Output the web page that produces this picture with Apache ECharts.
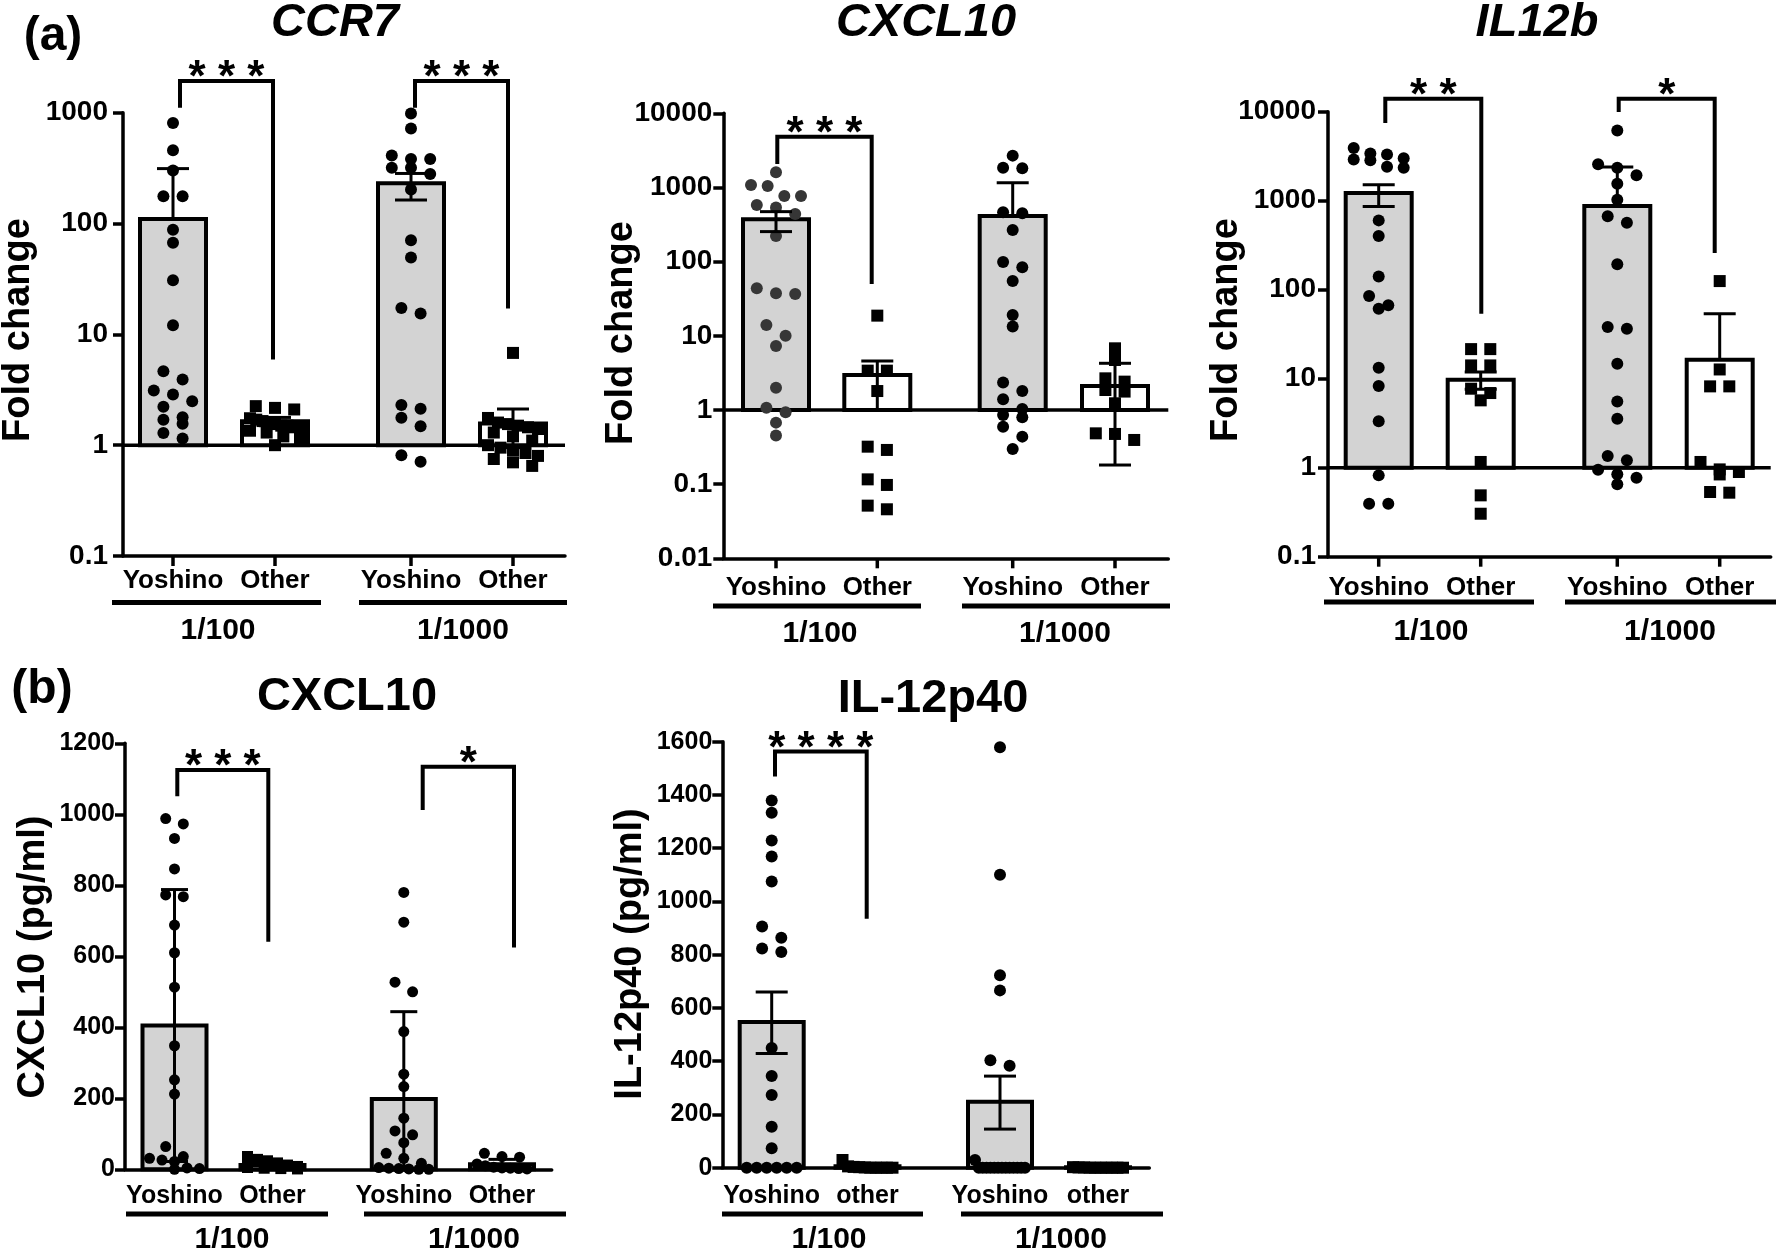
<!DOCTYPE html>
<html>
<head>
<meta charset="utf-8">
<script src="https://cdn.jsdelivr.net/npm/echarts@6.0.0/dist/echarts.min.js"></script>
<style>
html,body{margin:0;padding:0;background:#fff;}
#chart{width:1778px;height:1257px;}
</style>
</head>
<body>
<div id="chart"></div>
<script>
// ================= DATA =================
const groupNamesA = ['Yoshino', 'Other', 'Yoshino', 'Other'];
const groupNamesB2 = ['Yoshino', 'other', 'Yoshino', 'other'];
const dilutions = ['1/100', '1/1000'];
const titles = ['CCR7', 'CXCL10', 'IL12b', 'CXCL10', 'IL-12p40'];
const yTitles = ['Fold change', 'Fold change', 'Fold change', 'CXCL10 (pg/ml)', 'IL-12p40 (pg/ml)'];
const panelLetters = ['(a)', '(b)'];

// (a) CCR7 fold change
const ccr7_yoshino100 = [809, 459, 301, 176, 176, 88, 67, 30.8, 12.1, 4.65, 3.91, 3.11, 2.87, 2.49, 2.22, 1.79, 1.70, 1.56, 1.29, 1.15];
const ccr7_other100 = [2.25, 2.17, 2.1, 1.75, 1.7, 1.65, 1.6, 1.55, 1.5, 1.5, 1.45, 1.4, 1.35, 1.3, 1.2, 1.1, 1.0];
const ccr7_yoshino1000 = [983, 720, 411, 383, 383, 318, 318, 280, 203, 70.7, 49.3, 17.3, 15.4, 2.3, 2.13, 1.77, 1.48, 0.81, 0.71];
const ccr7_other1000 = [6.8, 1.76, 1.6, 1.55, 1.5, 1.45, 1.4, 1.3, 1.2, 1.1, 1.0, 0.95, 0.9, 0.85, 0.8, 0.75, 0.7, 0.65];
const ccr7_mean = [110, 1.64, 231, 1.57];
const ccr7_errHigh = [313, 1.78, 283, 2.12];
const ccr7_errLow = [null, 1.5, 163, 0.95];
const ccr7_sig = ['* * *', '* * *'];

// (a) CXCL10 fold change
const cxcl10a_yoshino100 = [1601, 1047, 1081, 768, 768, 535, 581, 440, 222, 37.4, 36.6, 43.7, 14.0, 10.0, 7.29, 2.0, 1.07, 0.93, 0.675, 0.451];
const cxcl10a_other100 = [18.7, 3.39, 3.39, 1.80, 0.289, 0.32, 0.116, 0.0975, 0.0458, 0.0513];
const cxcl10a_yoshino1000 = [2687, 1811, 1849, 448, 462, 267, 99, 83.9, 54.8, 19.1, 13.3, 2.34, 1.80, 1.39, 1.03, 0.857, 0.796, 0.596, 0.437, 0.298];
const cxcl10a_other1000 = [6.78, 4.72, 2.67, 2.41, 1.86, 1.77, 1.23, 0.484, 0.475, 0.394];
const cxcl10a_mean = [372, 2.96, 413, 2.1];
const cxcl10a_errHigh = [472, 4.58, 1161, 4.26];
const cxcl10a_errLow = [254, 1.0, null, 0.181];
const cxcl10a_sig = ['* * *'];

// (a) IL12b fold change
const il12b_yoshino100 = [3900, 3400, 3300, 3000, 2900, 2850, 2400, 2350, 601, 401, 141, 84.9, 66.7, 61.2, 13.3, 8.27, 3.32, 0.82, 0.394, 0.394];
const il12b_other100 = [21.5, 21.5, 14.1, 14.1, 7.72, 6.9, 5.71, 1.16, 0.489, 0.304];
const il12b_yoshino1000 = [6166, 2560, 2348, 1928, 1552, 1025, 667, 566, 193, 38.1, 36.5, 14.7, 5.56, 3.55, 1.35, 1.21, 0.95, 0.842, 0.772, 0.65];
const il12b_other1000 = [125, 12.7, 8.2, 8.2, 1.16, 0.957, 0.894, 0.84, 0.533, 0.524];
const il12b_mean = [1219, 9.75, 871, 16.3];
const il12b_errHigh = [1513, 11.9, 2389, 53.7];
const il12b_errLow = [863, 7.6, null, null];
const il12b_sig = ['* *', '*'];

// (b) CXCL10 pg/ml
const cxcl10b_yoshino100 = [988, 973, 932, 846, 773, 768, 688, 610, 513, 348, 252, 212, 64, 36, 31, 26, 22, 4, 2, 0];
const cxcl10b_other100 = [36, 28, 24, 18, 12, 8, 5, 3, 2, 1];
const cxcl10b_yoshino1000 = [780, 696, 527, 500, 388, 268, 233, 144, 108, 97, 75, 45, 31, 17, 5, 3, 2, 1, 0, 0];
const cxcl10b_other1000 = [45, 36, 34, 15, 10, 6, 4, 3, 2, 1];
const cxcl10b_mean = [405, 12, 198, 14];
const cxcl10b_errHigh = [788, 20, 444, 28];
const cxcl10b_errLow = [22, 4, 0, 0];
const cxcl10b_sig = ['* * *', '*'];

// (b) IL-12p40 pg/ml
const il12p40_yoshino100 = [1379, 1333, 1229, 1169, 1075, 906, 864, 823, 810, 450, 344, 273, 154, 73, 0, 0, 0, 0, 0, 0];
const il12p40_other100 = [29, 5, 3, 2, 1, 0, 0, 0, 0, 0];
const il12p40_yoshino1000 = [1579, 1100, 723, 666, 404, 383, 29, 0, 0, 0, 0, 0, 0, 0, 0, 0, 0, 0, 0, 0];
const il12p40_other1000 = [2, 1, 1, 0, 0, 0, 0, 0, 0, 0];
const il12p40_mean = [547, 5, 248, 2];
const il12p40_errHigh = [660, 8, 344, 3];
const il12p40_errLow = [429, 2, 145, 1];
const il12p40_sig = ['* * * *'];

// ================= LAYOUT / STYLE =================
const FONT = '"Liberation Sans", Arial, Helvetica, sans-serif';
const LAYOUT = [
  { left: 123, right: 565, top: 112.7, bottom: 556, axis: { type: 'log', min: 0.1, max: 1000, split: 4 },
    cats: [50, 152, 288, 390], markers: ['circle', 'rect', 'circle', 'rect'], colors: ['#000', '#000', '#000', '#000'],
    sym: 12, barW: 66, cap: 32, tickFont: 28, labelMargin: 15, catFont: 26, catY: 581,
    ulY: 602.5, ul: [[112, 321], [359, 567]], dilY: 631, dilX: [218, 463],
    titleX: 335, titleY: 23, italic: true, yTitleX: 19, yTitleY: 330, xTicks: true,
    brackets: [{ x1: 57, x2: 150, top: 1936, lb: 1109, rb: 5.93 }, { x1: 292, x2: 385, top: 1936, lb: 1109, rb: 17.1 }] },
  { left: 723.3, right: 1168.3, top: 113.3, bottom: 558.3, axis: { type: 'log', min: 0.01, max: 10000, split: 6 },
    cats: [52.7, 154, 289.4, 391.7], markers: ['circle', 'rect', 'circle', 'rect'], colors: ['#363636', '#000', '#000', '#000'],
    sym: 12, barW: 66, cap: 32, tickFont: 28, labelMargin: 11, catFont: 26, catY: 588,
    ulY: 606, ul: [[713, 921], [962, 1170]], dilY: 634, dilX: [820, 1065],
    titleX: 926, titleY: 23, italic: true, yTitleX: 622, yTitleY: 333, xTicks: true,
    brackets: [{ x1: 54, x2: 148.4, top: 4823, lb: 2066, rb: 49.9 }] },
  { left: 1328, right: 1770.7, top: 111.7, bottom: 556.7, axis: { type: 'log', min: 0.1, max: 10000, split: 5 },
    cats: [50.7, 152.7, 289.3, 391.7], markers: ['circle', 'rect', 'circle', 'rect'], colors: ['#000', '#000', '#000', '#000'],
    sym: 12, barW: 66, cap: 32, tickFont: 28, labelMargin: 12, catFont: 26, catY: 588,
    ulY: 602, ul: [[1324, 1534], [1565, 1776]], dilY: 632, dilX: [1431, 1670],
    titleX: 1537, titleY: 23, italic: true, yTitleX: 1227, yTitleY: 330, xTicks: true,
    brackets: [{ x1: 57.3, x2: 153.3, top: 14000, lb: 7450, rb: 53.7 }, { x1: 290.7, x2: 386.7, top: 14000, lb: 9900, rb: 258 }] },
  { left: 125, right: 551.7, top: 743.3, bottom: 1169.3, axis: { type: 'value', min: 0, max: 1200, interval: 200 },
    cats: [49.5, 147.5, 278.8, 377], markers: ['circle', 'rect', 'circle', 'circle'], colors: ['#000', '#000', '#000', '#000'],
    sym: 11, barW: 64, cap: 27, tickFont: 25, labelMargin: 10, catFont: 25, catY: 1196,
    ulY: 1214, ul: [[126, 328], [364, 566]], dilY: 1240, dilX: [232, 474],
    titleX: 347, titleY: 697, italic: false, yTitleX: 34, yTitleY: 957, xTicks: false,
    brackets: [{ x1: 52.3, x2: 143.3, top: 1125, lb: 1051, rb: 641 }, { x1: 297.7, x2: 389, top: 1134, lb: 1012, rb: 625 }] },
  { left: 722.3, right: 1149.3, top: 741.7, bottom: 1167.7, axis: { type: 'value', min: 0, max: 1600, interval: 200 },
    cats: [49.4, 145.2, 277.7, 375.7], markers: ['circle', 'rect', 'circle', 'rect'], colors: ['#000', '#000', '#000', '#000'],
    sym: 12, barW: 64, cap: 32, tickFont: 25, labelMargin: 10, catFont: 25, catY: 1196,
    ulY: 1214, ul: [[722, 923], [961, 1163]], dilY: 1240, dilX: [829, 1061],
    titleX: 933, titleY: 699, italic: false, yTitleX: 631, yTitleY: 954, xTicks: false,
    brackets: [{ x1: 52.7, x2: 144.4, top: 1563, lb: 1469, rb: 935 }] }
];
const LETTER_POS = [[53, 37], [42, 690]];

const PANELS = [
  { groups: [ccr7_yoshino100, ccr7_other100, ccr7_yoshino1000, ccr7_other1000], mean: ccr7_mean, hi: ccr7_errHigh, lo: ccr7_errLow, sig: ccr7_sig, names: groupNamesA },
  { groups: [cxcl10a_yoshino100, cxcl10a_other100, cxcl10a_yoshino1000, cxcl10a_other1000], mean: cxcl10a_mean, hi: cxcl10a_errHigh, lo: cxcl10a_errLow, sig: cxcl10a_sig, names: groupNamesA },
  { groups: [il12b_yoshino100, il12b_other100, il12b_yoshino1000, il12b_other1000], mean: il12b_mean, hi: il12b_errHigh, lo: il12b_errLow, sig: il12b_sig, names: groupNamesA },
  { groups: [cxcl10b_yoshino100, cxcl10b_other100, cxcl10b_yoshino1000, cxcl10b_other1000], mean: cxcl10b_mean, hi: cxcl10b_errHigh, lo: cxcl10b_errLow, sig: cxcl10b_sig, names: groupNamesA },
  { groups: [il12p40_yoshino100, il12p40_other100, il12p40_yoshino1000, il12p40_other1000], mean: il12p40_mean, hi: il12p40_errHigh, lo: il12p40_errLow, sig: il12p40_sig, names: groupNamesB2 }
];

// ================= BUILD =================
const chart = echarts.init(document.getElementById('chart'), null, { renderer: 'canvas' });

function fmtNum(v) { return String(+Number(v).toPrecision(6)); }

const grids = [], xAxes = [], yAxes = [], series = [], graphics = [];

function txt(text, x, y, font, opts) {
  opts = opts || {};
  return {
    type: 'text', x: x, y: y, rotation: opts.rotation || 0, silent: true, z: 10,
    style: { text: text, x: 0, y: 0, font: font, fill: '#000',
      align: 'center', verticalAlign: 'middle', textAlign: 'center', textVerticalAlign: 'middle' }
  };
}

PANELS.forEach((P, g) => {
  const L = LAYOUT[g];
  const W = L.right - L.left;
  const isLog = L.axis.type === 'log';
  const base = isLog ? 1 : 0;
  grids.push({ left: L.left, top: L.top, width: W, height: L.bottom - L.top, containLabel: false });
  xAxes.push({
    type: 'value', gridIndex: g, min: 0, max: W,
    axisLine: { show: true, onZero: false, lineStyle: { color: '#000', width: 3.5 } },
    axisTick: { show: false }, axisLabel: { show: false }, splitLine: { show: false }
  });
  const ya = {
    gridIndex: g, min: L.axis.min, max: L.axis.max,
    axisLine: { show: true, onZero: false, lineStyle: { color: '#000', width: 3.5 } },
    axisTick: { show: true, inside: false, length: 10, lineStyle: { color: '#000', width: 3.5 } },
    minorTick: { show: false },
    axisLabel: { show: true, margin: L.labelMargin, color: '#000', fontFamily: FONT, fontWeight: 'bold', fontSize: L.tickFont, formatter: fmtNum },
    splitLine: { show: false }
  };
  if (isLog) { ya.type = 'log'; ya.logBase = 10; ya.splitNumber = L.axis.split; }
  else { ya.type = 'value'; ya.interval = L.axis.interval; }
  yAxes.push(ya);

  // baseline at 1 + x ticks
  series.push({
    type: 'custom', xAxisIndex: g, yAxisIndex: g, z: 1, clip: false, silent: true,
    data: [[0, base]],
    renderItem: (params, api) => {
      const ch = [];
      if (isLog) {
        const a = api.coord([0, 1]), b = api.coord([W, 1]);
        ch.push({ type: 'line', shape: { x1: a[0], y1: a[1], x2: b[0], y2: b[1] }, style: { stroke: '#000', lineWidth: 3.5, fill: 'none' } });
      }
      if (L.xTicks) {
        L.cats.forEach(c => {
          const p = api.coord([c, L.axis.min]);
          ch.push({ type: 'line', shape: { x1: p[0], y1: p[1], x2: p[0], y2: p[1] + 10 }, style: { stroke: '#000', lineWidth: 3.5, fill: 'none' } });
        });
      }
      return { type: 'group', children: ch };
    }
  });

  // bars
  series.push({
    type: 'custom', xAxisIndex: g, yAxisIndex: g, z: 2, clip: false, silent: true,
    data: P.mean.map((m, k) => [L.cats[k], m, base, k % 2]),
    renderItem: (params, api) => {
      const x = api.value(0), v = api.value(1), b = api.value(2), other = api.value(3);
      const pt = api.coord([x, v]), pb = api.coord([x, b]);
      return { type: 'rect', shape: { x: pt[0] - L.barW / 2, y: pt[1], width: L.barW, height: pb[1] - pt[1] },
        style: { fill: other ? '#ffffff' : '#d3d3d3', stroke: '#000', lineWidth: 4 } };
    }
  });

  // dots
  P.groups.forEach((vals, k) => {
    series.push({
      id: 'sc' + g + '_' + k, type: 'scatter', xAxisIndex: g, yAxisIndex: g, z: 3, silent: true,
      symbol: L.markers[k], symbolSize: L.sym, clip: false,
      itemStyle: { color: L.colors[k], opacity: 1 },
      data: vals.map(v => [L.cats[k], v])
    });
  });

  // error bars
  series.push({
    type: 'custom', xAxisIndex: g, yAxisIndex: g, z: 4, clip: false, silent: true,
    data: P.mean.map((m, k) => [L.cats[k], P.hi[k], P.lo[k] == null ? m : P.lo[k], (P.lo[k] != null && P.lo[k] > 0) ? 1 : 0]),
    renderItem: (params, api) => {
      const x = api.value(0), hi = api.value(1), lo = api.value(2), capLo = api.value(3);
      const ph = api.coord([x, hi]), pl = api.coord([x, lo]);
      const st = { stroke: '#000', lineWidth: 3, fill: 'none' };
      const ch = [
        { type: 'line', shape: { x1: ph[0], y1: ph[1], x2: pl[0], y2: pl[1] }, style: st },
        { type: 'line', shape: { x1: ph[0] - L.cap / 2, y1: ph[1], x2: ph[0] + L.cap / 2, y2: ph[1] }, style: st }
      ];
      if (capLo) ch.push({ type: 'line', shape: { x1: pl[0] - L.cap / 2, y1: pl[1], x2: pl[0] + L.cap / 2, y2: pl[1] }, style: st });
      return { type: 'group', children: ch };
    }
  });

  // significance brackets
  series.push({
    type: 'custom', xAxisIndex: g, yAxisIndex: g, z: 4, clip: false, silent: true,
    data: L.brackets.map(b => [b.x1, b.top, b.x2, b.lb, b.rb]),
    renderItem: (params, api) => {
      const x1 = api.value(0), top = api.value(1), x2 = api.value(2), lb = api.value(3), rb = api.value(4);
      const pL = api.coord([x1, lb]), pT1 = api.coord([x1, top]), pT2 = api.coord([x2, top]), pR = api.coord([x2, rb]);
      return { type: 'group', children: [
        { type: 'polyline', shape: { points: [pL, pT1, pT2, pR] }, style: { stroke: '#000', lineWidth: 4, fill: 'none', lineJoin: 'miter' } },
        { type: 'text', style: { text: P.sig[params.dataIndex], x: (pT1[0] + pT2[0]) / 2, y: pT1[1] - 2,
          font: 'bold 44px ' + FONT, fill: '#000', align: 'center', verticalAlign: 'middle', textAlign: 'center', textVerticalAlign: 'middle' } }
      ] };
    }
  });

  // texts: title, y title, category labels, underlines, dilution labels
  graphics.push(txt(titles[g], L.titleX, L.titleY, (L.italic ? 'italic ' : '') + 'bold 47px ' + FONT));
  graphics.push(txt(yTitles[g], L.yTitleX, L.yTitleY, 'bold 38px ' + FONT, { rotation: Math.PI / 2 }));
  P.names.forEach((n, k) => graphics.push(txt(n, L.left + L.cats[k], L.catY, 'bold ' + L.catFont + 'px ' + FONT)));
  L.ul.forEach((u, j) => {
    graphics.push({ type: 'line', silent: true, z: 10, shape: { x1: u[0], y1: L.ulY, x2: u[1], y2: L.ulY }, style: { stroke: '#000', lineWidth: 5 } });
    graphics.push(txt(dilutions[j], L.dilX[j], L.dilY, 'bold 30px ' + FONT));
  });
});

panelLetters.forEach((t, i) => graphics.push(txt(t, LETTER_POS[i][0], LETTER_POS[i][1], 'bold 48px ' + FONT)));

const option = {
  backgroundColor: '#ffffff',
  animation: false,
  grid: grids, xAxis: xAxes, yAxis: yAxes, series: series, graphic: graphics
};
chart.setOption(option);

// ---- arrange points in rows (scatter-dot-plot layout) using the library's scale ----
function swarm(pys, sym) {
  const binH = sym * 0.95, sp = sym * 1.6, maxW = 50;
  const idx = pys.map((p, i) => i).sort((a, b) => pys[a] - pys[b]);
  const offs = new Array(pys.length).fill(0);
  let row = [], start = 0;
  const flush = () => {
    const n = row.length;
    const s = n > 1 ? Math.min(sp, maxW / (n - 1)) : 0;
    row.forEach((k, j) => { offs[k] = (j - (n - 1) / 2) * s; });
    row = [];
  };
  idx.forEach(k => {
    if (row.length && pys[k] - start >= binH) flush();
    if (!row.length) start = pys[k];
    row.push(k);
  });
  flush();
  return offs;
}
const upd = [];
PANELS.forEach((P, g) => {
  const L = LAYOUT[g];
  P.groups.forEach((vals, k) => {
    const cx = L.cats[k];
    const pys = vals.map(v => chart.convertToPixel({ gridIndex: g }, [cx, v])[1]);
    const offs = swarm(pys, L.sym);
    upd.push({ id: 'sc' + g + '_' + k, data: vals.map((v, i) => [cx + offs[i], v]) });
  });
});
chart.setOption({ series: upd });
</script>
</body>
</html>
